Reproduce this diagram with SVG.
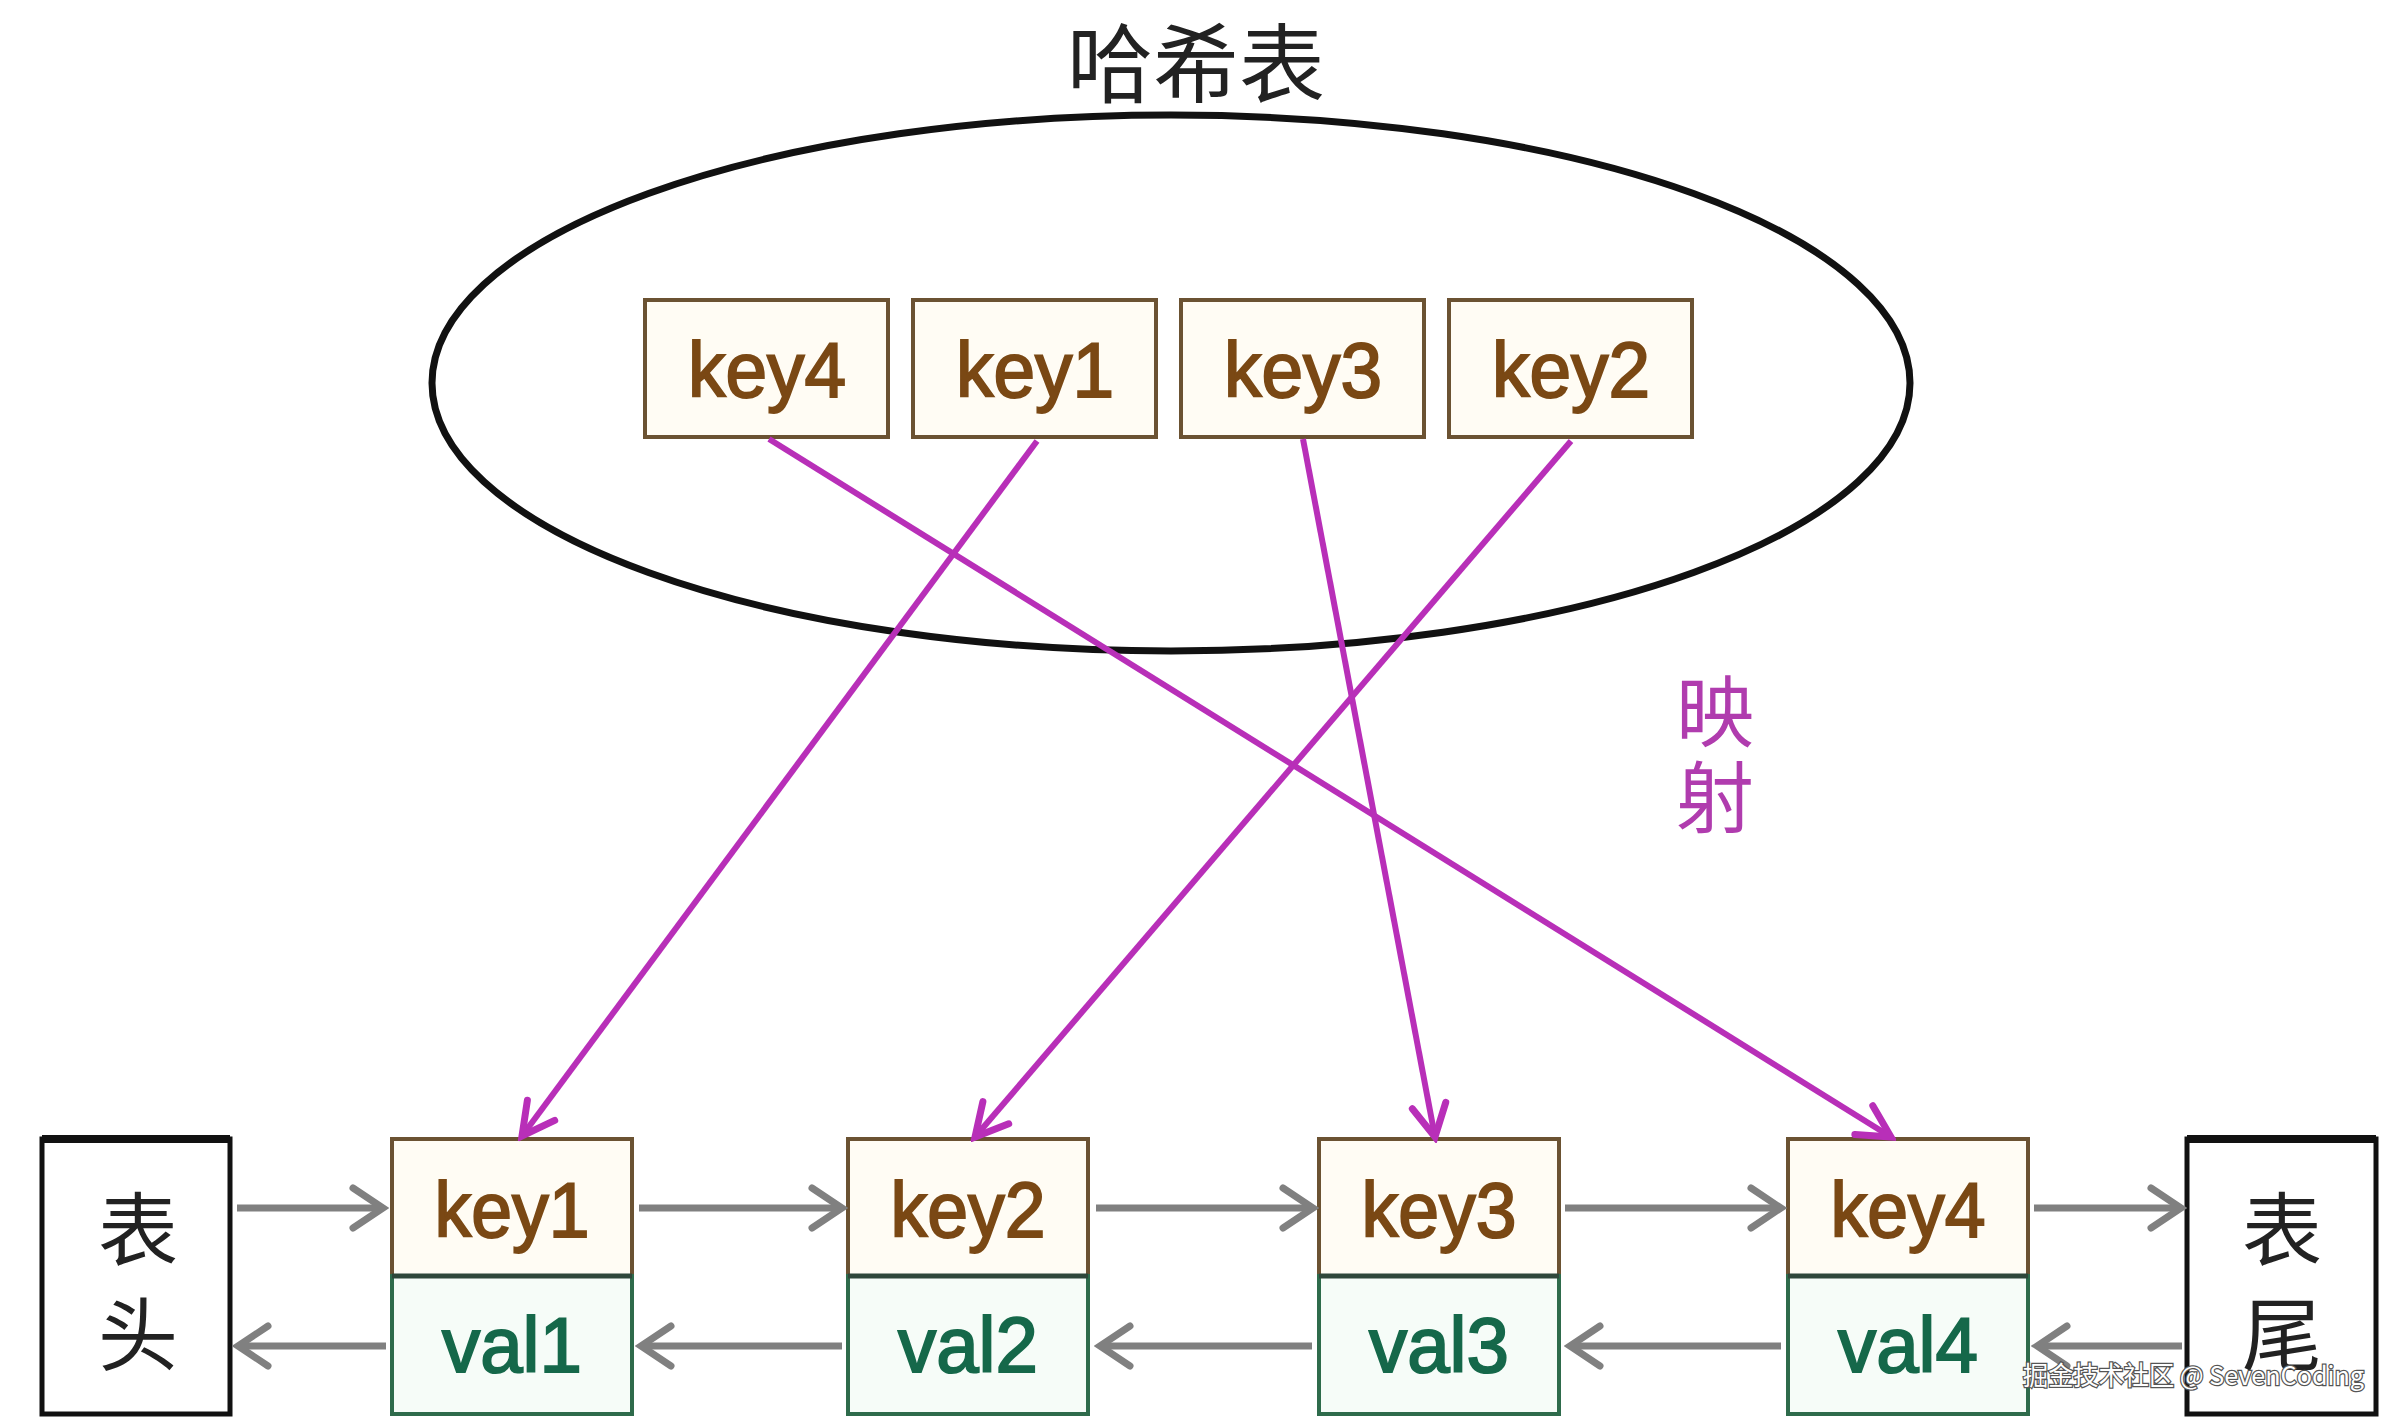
<svg xmlns="http://www.w3.org/2000/svg" width="2401" height="1426" viewBox="0 0 2401 1426">
<style>
.cjk{font-family:"Noto Sans CJK SC","Noto Sans",sans-serif;fill:#222;text-anchor:middle}
.kbox{fill:#fffcf4;stroke:#6b5232;stroke-width:4}
.vbox{fill:#f6fcf8;stroke:#2e6b4b;stroke-width:4}
.div{stroke:#2f473a;stroke-width:5}
.ktxt{font-family:"Liberation Sans",Arial,sans-serif;font-size:78px;fill:#7a4814;stroke:#7a4814;stroke-width:2;text-anchor:middle}
.vtxt{font-family:"Liberation Sans",Arial,sans-serif;font-size:78px;fill:#15684a;stroke:#15684a;stroke-width:2;text-anchor:middle}
.gray{stroke:#808080;stroke-width:7;fill:none;marker-end:url(#ga)}
.mag{stroke:#b82fb8;stroke-width:6;fill:none;marker-end:url(#ma)}
.endbox{fill:#fff;stroke:#111;stroke-width:5}
</style>
<defs>
<marker id="ga" markerUnits="userSpaceOnUse" viewBox="-40 -28 46 56" markerWidth="46" markerHeight="56" refX="0" refY="0" orient="auto">
<path d="M-30,-20 L0,0 L-30,20" fill="none" stroke="#808080" stroke-width="7" stroke-linecap="round"/>
</marker>
<marker id="ma" markerUnits="userSpaceOnUse" viewBox="-40 -26 46 52" markerWidth="46" markerHeight="52" refX="0" refY="0" orient="auto">
<path d="M-32,-17 L0,0 L-32,17" fill="none" stroke="#b82fb8" stroke-width="7" stroke-linecap="round"/>
</marker>
</defs>
<rect width="2401" height="1426" fill="#ffffff"/>

<g id="hashtable">
<text class="cjk" x="1196" y="96" font-size="86">哈希表</text>
<ellipse cx="1171" cy="383" rx="739" ry="268" fill="none" stroke="#111" stroke-width="7"/>
</g>
<g id="h-key4"><rect class="kbox" x="645" y="300" width="243" height="137"/><text class="ktxt" x="767" y="397" textLength="158" lengthAdjust="spacingAndGlyphs">key4</text></g>
<g id="h-key1"><rect class="kbox" x="913" y="300" width="243" height="137"/><text class="ktxt" x="1035" y="397" textLength="158" lengthAdjust="spacingAndGlyphs">key1</text></g>
<g id="h-key3"><rect class="kbox" x="1181" y="300" width="243" height="137"/><text class="ktxt" x="1303" y="397" textLength="158" lengthAdjust="spacingAndGlyphs">key3</text></g>
<g id="h-key2"><rect class="kbox" x="1449" y="300" width="243" height="137"/><text class="ktxt" x="1571" y="397" textLength="158" lengthAdjust="spacingAndGlyphs">key2</text></g>

<g id="head"><rect class="endbox" x="42" y="1139" width="188" height="275"/><path d="M42,1139 H230" stroke="#111" stroke-width="8"/><text class="cjk" x="138" y="1259" font-size="80">表</text><text class="cjk" x="138" y="1364" font-size="80">头</text></g>
<g id="tail"><rect class="endbox" x="2187" y="1139" width="189" height="275"/><path d="M2187,1139 H2376" stroke="#111" stroke-width="8"/><text class="cjk" x="2282" y="1259" font-size="80">表</text><text class="cjk" x="2282" y="1364" font-size="80">尾</text></g>

<g id="node1"><rect class="kbox" x="392" y="1139" width="240" height="137"/><rect class="vbox" x="392" y="1276" width="240" height="138"/><line class="div" x1="392" y1="1276" x2="632" y2="1276"/><text class="ktxt" x="512" y="1237" textLength="155" lengthAdjust="spacingAndGlyphs">key1</text><text class="vtxt" x="512" y="1372" textLength="140" lengthAdjust="spacingAndGlyphs">val1</text></g>
<g id="node2"><rect class="kbox" x="848" y="1139" width="240" height="137"/><rect class="vbox" x="848" y="1276" width="240" height="138"/><line class="div" x1="848" y1="1276" x2="1088" y2="1276"/><text class="ktxt" x="968" y="1237" textLength="155" lengthAdjust="spacingAndGlyphs">key2</text><text class="vtxt" x="968" y="1372" textLength="140" lengthAdjust="spacingAndGlyphs">val2</text></g>
<g id="node3"><rect class="kbox" x="1319" y="1139" width="240" height="137"/><rect class="vbox" x="1319" y="1276" width="240" height="138"/><line class="div" x1="1319" y1="1276" x2="1559" y2="1276"/><text class="ktxt" x="1439" y="1237" textLength="155" lengthAdjust="spacingAndGlyphs">key3</text><text class="vtxt" x="1439" y="1372" textLength="140" lengthAdjust="spacingAndGlyphs">val3</text></g>
<g id="node4"><rect class="kbox" x="1788" y="1139" width="240" height="137"/><rect class="vbox" x="1788" y="1276" width="240" height="138"/><line class="div" x1="1788" y1="1276" x2="2028" y2="1276"/><text class="ktxt" x="1908" y="1237" textLength="155" lengthAdjust="spacingAndGlyphs">key4</text><text class="vtxt" x="1908" y="1372" textLength="140" lengthAdjust="spacingAndGlyphs">val4</text></g>

<g id="label-mapping"><text x="1715" y="672" writing-mode="vertical-rl" font-family="Noto Sans CJK SC, Noto Sans, sans-serif" font-size="78" letter-spacing="8" fill="#b03cae">映射</text></g>

<g id="connectors">
<line class="gray" x1="237" y1="1208" x2="383" y2="1208"/>
<line class="gray" x1="639" y1="1208" x2="842" y2="1208"/>
<line class="gray" x1="1096" y1="1208" x2="1313" y2="1208"/>
<line class="gray" x1="1565" y1="1208" x2="1781" y2="1208"/>
<line class="gray" x1="2034" y1="1208" x2="2181" y2="1208"/>
<line class="gray" x1="386" y1="1346" x2="238" y2="1346"/>
<line class="gray" x1="842" y1="1346" x2="641" y2="1346"/>
<line class="gray" x1="1312" y1="1346" x2="1100" y2="1346"/>
<line class="gray" x1="1781" y1="1346" x2="1570" y2="1346"/>
<line class="gray" x1="2182" y1="1346" x2="2037" y2="1346"/>
<line class="mag" x1="769" y1="439" x2="1891" y2="1137"/>
<line class="mag" x1="1037" y1="441" x2="522" y2="1136"/>
<line class="mag" x1="1303" y1="439" x2="1435" y2="1137"/>
<line class="mag" x1="1571" y1="441" x2="975" y2="1137"/>
</g>

<text x="2364" y="1385" text-anchor="end" font-family="Noto Sans CJK SC, Noto Sans, sans-serif" font-size="26" fill="#ffffff" stroke="#555" stroke-width="2.5" paint-order="stroke" textLength="341" lengthAdjust="spacingAndGlyphs">掘金技术社区 @ SevenCoding</text>
</svg>
